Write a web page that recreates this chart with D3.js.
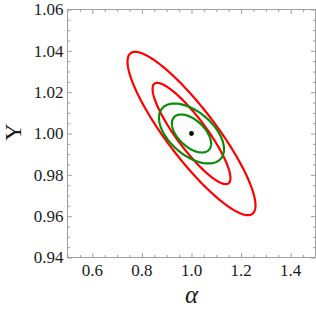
<!DOCTYPE html>
<html><head><meta charset="utf-8">
<script src="https://cdn.jsdelivr.net/npm/d3@7"></script>
<style>html,body{margin:0;padding:0;background:#fff;}svg{display:block;}</style>
</head><body>
<svg id="c" width="316" height="311"></svg>
<script>
// Data
const xDomain = [0.5, 1.5];
const yDomain = [0.94, 1.06];
const xMajorTicks = [0.6, 0.8, 1.0, 1.2, 1.4];
const xTickLabels = ["0.6", "0.8", "1.0", "1.2", "1.4"];
const yMajorTicks = [0.94, 0.96, 0.98, 1.00, 1.02, 1.04, 1.06];
const yTickLabels = ["0.94", "0.96", "0.98", "1.00", "1.02", "1.04", "1.06"];
const xMinorStep = 0.05;
const yMinorStep = 0.005;
const center = [1.0, 1.0];
// ellipse contours: half-extent in alpha, half-extent in Y, correlation
const ellipseNames = ["red outer", "red inner", "green outer", "green inner"];
const ellipseColors = ["#ff0000", "#ff0000", "#0a8a0a", "#0a8a0a"];
const ellipseSx = [0.258, 0.157, 0.131, 0.079];
const ellipseSy = [0.0395, 0.0245, 0.0145, 0.0092];
const ellipseRho = [-0.88, -0.88, -0.52, -0.53];
const xTitle = "α";
const yTitle = "Y";

const svg = d3.select("#c");
const font = "Liberation Serif";
const L = 67.5, R = 315.5, T = 9.5, B = 257.5;
const x = d3.scaleLinear().domain(xDomain).range([L, R]);
const y = d3.scaleLinear().domain(yDomain).range([B, T]);

// ellipses
const line = d3.line().x(d => x(d[0])).y(d => y(d[1])).curve(d3.curveLinearClosed);
ellipseNames.forEach((n, i) => {
  const sx = ellipseSx[i], sy = ellipseSy[i], r = ellipseRho[i];
  const pts = d3.range(0, 360, 2).map(a => {
    const t = a * Math.PI / 180;
    return [center[0] + sx * Math.cos(t), center[1] + sy * (r * Math.cos(t) + Math.sqrt(1 - r * r) * Math.sin(t))];
  });
  svg.append("path").attr("d", line(pts)).attr("fill", "none")
    .attr("stroke", ellipseColors[i]).attr("stroke-width", 2.2);
});
svg.append("circle").attr("cx", x(center[0])).attr("cy", y(center[1])).attr("r", 2.4).attr("fill", "#000");

// frame
const frameColor = "#a0a0a0";
svg.append("rect").attr("x", L).attr("y", T).attr("width", R - L).attr("height", B - T)
  .attr("fill", "none").attr("stroke", frameColor).attr("stroke-width", 1);

const xMinor = d3.range(Math.round((xDomain[1]-xDomain[0])/xMinorStep)+1).map(i => +(xDomain[0] + i*xMinorStep).toFixed(3));
const yMinor = d3.range(Math.round((yDomain[1]-yDomain[0])/yMinorStep)+1).map(i => +(yDomain[0] + i*yMinorStep).toFixed(4));
const isMajor = (v, arr) => arr.some(m => Math.abs(m - v) < 1e-6);

function ticks(axisFn, scale, vals, majors, pos, transform) {
  const g = svg.append("g").attr("transform", transform);
  g.call(axisFn(scale).tickValues(vals).tickSize(0).tickFormat(""));
  g.select(".domain").remove();
  g.selectAll(".tick line").each(function(d) {
    const len = isMajor(d, majors) ? 4.5 : 2.5;
    const el = d3.select(this).attr("stroke", frameColor).attr("stroke-width", 1);
    if (pos === "bottom") el.attr("y2", -len);
    if (pos === "top") el.attr("y2", len);
    if (pos === "left") el.attr("x2", len);
    if (pos === "right") el.attr("x2", -len);
  });
}
ticks(d3.axisBottom, x, xMinor, xMajorTicks, "bottom", `translate(0,${B})`);
ticks(d3.axisTop, x, xMinor, xMajorTicks, "top", `translate(0,${T})`);
ticks(d3.axisLeft, y, yMinor, yMajorTicks, "left", `translate(${L},0)`);
ticks(d3.axisRight, y, yMinor, yMajorTicks, "right", `translate(${R},0)`);

xMajorTicks.forEach((v, i) => {
  svg.append("text").attr("x", x(v)).attr("y", 275.5).attr("text-anchor", "middle")
    .attr("font-family", font).attr("font-size", 17).attr("fill", "#1a1a1a").text(xTickLabels[i]);
});
yMajorTicks.forEach((v, i) => {
  svg.append("text").attr("x", 63.5).attr("y", y(v)).attr("dy", "0.35em").attr("text-anchor", "end")
    .attr("font-family", font).attr("font-size", 17).attr("fill", "#1a1a1a").text(yTickLabels[i]);
});
svg.append("text").attr("x", 191.5).attr("y", 303).attr("text-anchor", "middle")
  .attr("font-family", font).attr("font-style", "italic").attr("font-size", 25).attr("fill", "#1a1a1a").text(xTitle);
svg.append("text").attr("transform", "translate(20.5,132) rotate(-90)").attr("text-anchor", "middle")
  .attr("font-family", font).attr("font-size", 24).attr("fill", "#1a1a1a").text(yTitle);
</script>
</body></html>
